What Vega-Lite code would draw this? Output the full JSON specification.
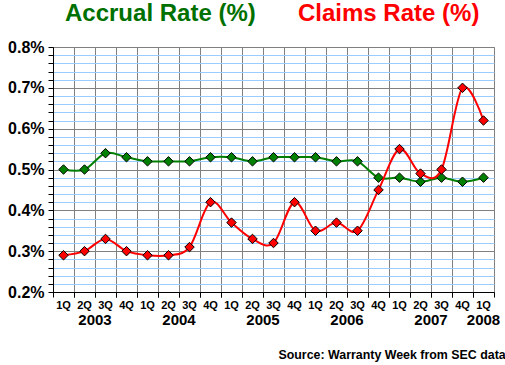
{
  "$schema": "https://vega.github.io/schema/vega-lite/v6.json",
  "width": 441,
  "height": 245,
  "autosize": {"type": "none"},
  "padding": {"left": 53, "top": 47, "right": 11, "bottom": 73},
  "background": "white",
  "config": {
    "view": {"stroke": "#808080", "strokeWidth": 1},
    "font": "Liberation Sans"
  },
  "title": {
    "text": "Source: Warranty Week from SEC data",
    "orient": "bottom",
    "anchor": "end",
    "fontSize": 12.4,
    "fontWeight": "bold",
    "font": "Liberation Sans",
    "color": "black",
    "offset": 22,
    "dx": 6
  },
  "data": {
    "values": [
      {"q": "1Q 2003", "series": "Accrual Rate (%)", "v": 0.50},
      {"q": "2Q 2003", "series": "Accrual Rate (%)", "v": 0.50},
      {"q": "3Q 2003", "series": "Accrual Rate (%)", "v": 0.54},
      {"q": "4Q 2003", "series": "Accrual Rate (%)", "v": 0.53},
      {"q": "1Q 2004", "series": "Accrual Rate (%)", "v": 0.52},
      {"q": "2Q 2004", "series": "Accrual Rate (%)", "v": 0.52},
      {"q": "3Q 2004", "series": "Accrual Rate (%)", "v": 0.52},
      {"q": "4Q 2004", "series": "Accrual Rate (%)", "v": 0.53},
      {"q": "1Q 2005", "series": "Accrual Rate (%)", "v": 0.53},
      {"q": "2Q 2005", "series": "Accrual Rate (%)", "v": 0.52},
      {"q": "3Q 2005", "series": "Accrual Rate (%)", "v": 0.53},
      {"q": "4Q 2005", "series": "Accrual Rate (%)", "v": 0.53},
      {"q": "1Q 2006", "series": "Accrual Rate (%)", "v": 0.53},
      {"q": "2Q 2006", "series": "Accrual Rate (%)", "v": 0.52},
      {"q": "3Q 2006", "series": "Accrual Rate (%)", "v": 0.52},
      {"q": "4Q 2006", "series": "Accrual Rate (%)", "v": 0.48},
      {"q": "1Q 2007", "series": "Accrual Rate (%)", "v": 0.48},
      {"q": "2Q 2007", "series": "Accrual Rate (%)", "v": 0.47},
      {"q": "3Q 2007", "series": "Accrual Rate (%)", "v": 0.48},
      {"q": "4Q 2007", "series": "Accrual Rate (%)", "v": 0.47},
      {"q": "1Q 2008", "series": "Accrual Rate (%)", "v": 0.48},
      {"q": "1Q 2003", "series": "Claims Rate (%)", "v": 0.29},
      {"q": "2Q 2003", "series": "Claims Rate (%)", "v": 0.30},
      {"q": "3Q 2003", "series": "Claims Rate (%)", "v": 0.33},
      {"q": "4Q 2003", "series": "Claims Rate (%)", "v": 0.30},
      {"q": "1Q 2004", "series": "Claims Rate (%)", "v": 0.29},
      {"q": "2Q 2004", "series": "Claims Rate (%)", "v": 0.29},
      {"q": "3Q 2004", "series": "Claims Rate (%)", "v": 0.31},
      {"q": "4Q 2004", "series": "Claims Rate (%)", "v": 0.42},
      {"q": "1Q 2005", "series": "Claims Rate (%)", "v": 0.37},
      {"q": "2Q 2005", "series": "Claims Rate (%)", "v": 0.33},
      {"q": "3Q 2005", "series": "Claims Rate (%)", "v": 0.32},
      {"q": "4Q 2005", "series": "Claims Rate (%)", "v": 0.42},
      {"q": "1Q 2006", "series": "Claims Rate (%)", "v": 0.35},
      {"q": "2Q 2006", "series": "Claims Rate (%)", "v": 0.37},
      {"q": "3Q 2006", "series": "Claims Rate (%)", "v": 0.35},
      {"q": "4Q 2006", "series": "Claims Rate (%)", "v": 0.45},
      {"q": "1Q 2007", "series": "Claims Rate (%)", "v": 0.55},
      {"q": "2Q 2007", "series": "Claims Rate (%)", "v": 0.49},
      {"q": "3Q 2007", "series": "Claims Rate (%)", "v": 0.50},
      {"q": "4Q 2007", "series": "Claims Rate (%)", "v": 0.70},
      {"q": "1Q 2008", "series": "Claims Rate (%)", "v": 0.62}
    ]
  },
  "encoding": {
    "y": {
      "field": "v",
      "type": "quantitative",
      "scale": {"domain": [0.2, 0.8], "nice": false, "zero": false},
      "axis": {
        "title": null,
        "values": [0.2, 0.22, 0.24, 0.26, 0.28, 0.3, 0.32, 0.34, 0.36, 0.38, 0.4, 0.42, 0.44, 0.46, 0.48, 0.5, 0.52, 0.54, 0.56, 0.58, 0.6, 0.62, 0.64, 0.66, 0.68, 0.7, 0.72, 0.74, 0.76, 0.78, 0.8],
        "labelExpr": "abs(datum.value*10 - round(datum.value*10)) < 0.001 ? format(datum.value, '.1f') + '%' : ''",
        "labelFont": "Liberation Sans",
        "labelFontSize": 16,
        "labelFontWeight": "bold",
        "labelColor": "black",
        "labelPadding": 4,
        "labelOverlap": false,
        "domainColor": "black",
        "tickColor": "black",
        "tickSize": 5,
        "grid": true,
        "gridColor": {"condition": {"test": "abs(datum.value*10 - round(datum.value*10)) < 0.001", "value": "#808080"}, "value": "#99ccff"},
        "gridOpacity": 1,
        "gridWidth": 1
      }
    },
    "color": {
      "field": "series",
      "type": "nominal",
      "scale": {"domain": ["Accrual Rate (%)", "Claims Rate (%)"], "range": ["#008000", "#ff0000"]},
      "legend": {
        "orient": "none",
        "legendX": -12,
        "legendY": -45,
        "direction": "horizontal",
        "title": null,
        "symbolSize": 0,
        "symbolOpacity": 0,
        "symbolStrokeWidth": 0,
        "labelOffset": 0,
        "columnPadding": 18,
        "labelFont": "Liberation Sans",
        "labelFontSize": 24,
        "labelFontWeight": "bold",
        "labelLimit": 400,
        "encode": {
          "labels": {"update": {"fill": {"signal": "datum.value === 'Claims Rate (%)' ? '#ff0000' : '#007000'"}}}
        }
      }
    }
  },
  "resolve": {"axis": {"x": "independent"}},
  "layer": [
    {
      "transform": [{"filter": "datum.series === 'Accrual Rate (%)'"}],
      "mark": {"type": "line", "strokeWidth": 2, "interpolate": "cardinal"},
      "encoding": {
        "x": {
          "field": "q", "type": "ordinal", "sort": null,
          "scale": {"type": "band", "paddingInner": 0, "paddingOuter": 0},
          "axis": {
            "orient": "bottom", "title": null, "labels": false,
            "bandPosition": 0, "grid": true, "gridColor": "#808080", "gridOpacity": 1,
            "domain": true, "domainColor": "black", "ticks": true, "tickColor": "black", "tickSize": 5
          }
        }
      }
    },
    {
      "transform": [{"filter": "datum.series === 'Accrual Rate (%)'"}],
      "mark": {"type": "point", "shape": "diamond", "filled": true, "size": 90, "stroke": "black", "strokeWidth": 1, "opacity": 1},
      "encoding": {
        "x": {
          "field": "q", "type": "ordinal", "sort": null,
          "scale": {"type": "band", "paddingInner": 0, "paddingOuter": 0},
          "axis": {
            "orient": "bottom", "title": null, "grid": false, "domain": false,
            "bandPosition": 1, "ticks": true, "tickColor": "black", "tickSize": 5,
            "labelAngle": 0,
            "labelExpr": "slice(datum.value, 0, 2)",
            "labelFont": "Liberation Sans", "labelFontSize": 11, "labelFontWeight": "bold",
            "labelColor": "black", "labelPadding": 2
          }
        }
      }
    },
    {
      "transform": [{"filter": "datum.series === 'Claims Rate (%)'"}],
      "mark": {"type": "line", "strokeWidth": 2, "interpolate": "cardinal"},
      "encoding": {
        "x": {
          "field": "q", "type": "ordinal", "sort": null,
          "scale": {"type": "band", "paddingInner": 0, "paddingOuter": 0},
          "axis": {
            "orient": "bottom", "title": null, "grid": false, "domain": false, "ticks": false,
            "values": ["2Q 2003", "2Q 2004", "2Q 2005", "2Q 2006", "2Q 2007", "1Q 2008"],
            "labelOffset": {"condition": {"test": "datum.value === '1Q 2008'", "value": 0}, "value": 10.5},
            "labelAngle": 0,
            "labelExpr": "slice(datum.value, 3)",
            "labelFont": "Liberation Sans", "labelFontSize": 15, "labelFontWeight": "bold",
            "labelColor": "black", "labelPadding": 20
          }
        }
      }
    },
    {
      "transform": [{"filter": "datum.series === 'Claims Rate (%)'"}],
      "mark": {"type": "point", "shape": "diamond", "filled": true, "size": 90, "stroke": "black", "strokeWidth": 1, "opacity": 1},
      "encoding": {
        "x": {
          "field": "q", "type": "ordinal", "sort": null,
          "scale": {"type": "band", "paddingInner": 0, "paddingOuter": 0},
          "axis": null
        }
      }
    }
  ]
}
